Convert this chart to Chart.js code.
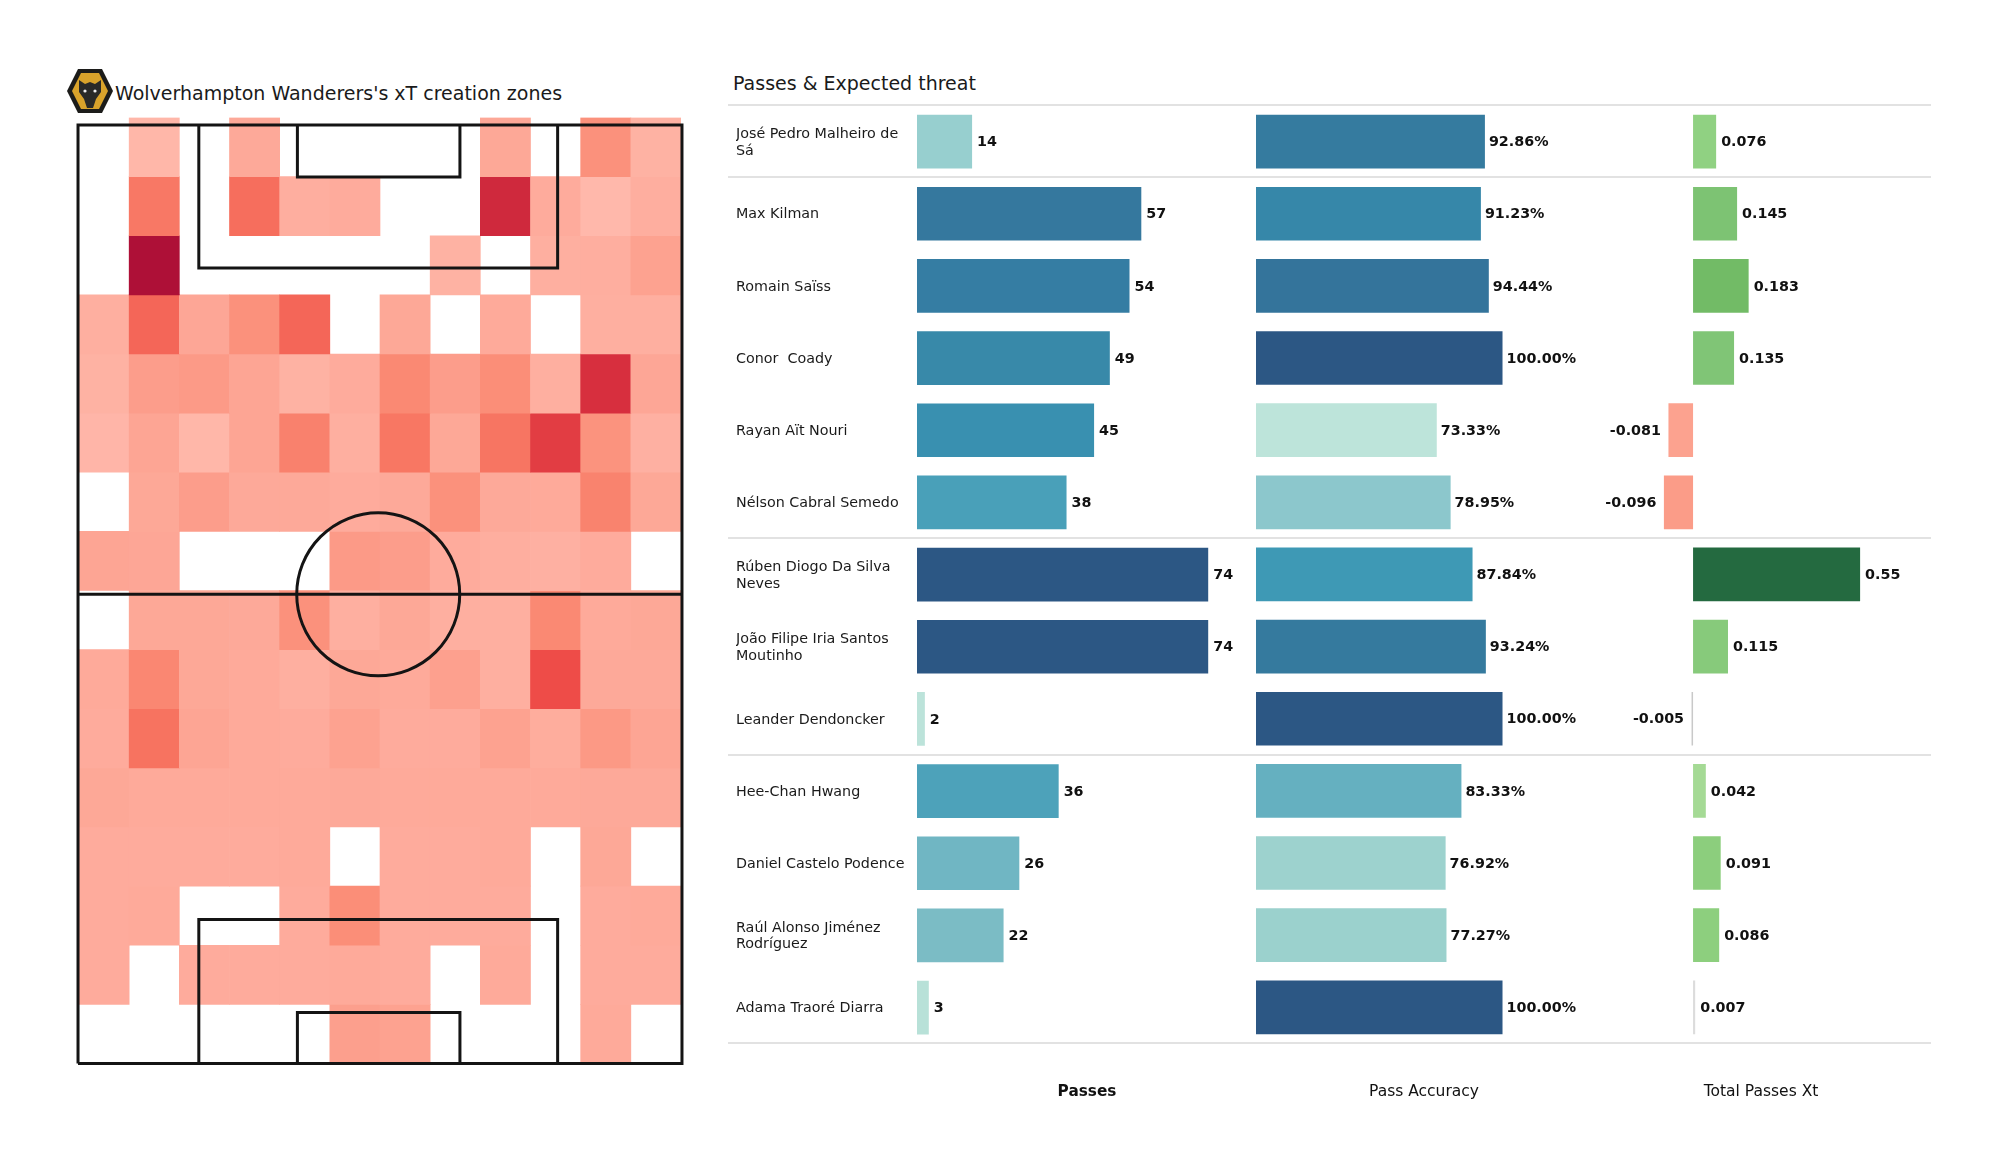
<!DOCTYPE html>
<html>
<head>
<meta charset="utf-8">
<title>Wolves xT</title>
<script src="https://cdn.jsdelivr.net/npm/chart.js@4/dist/chart.umd.min.js"></script>
<style>
  html, body { margin: 0; padding: 0; background: #fff; width: 2000px; height: 1175px; overflow: hidden; }
  body { font-family: "DejaVu Sans", sans-serif; position: relative; }
  canvas { position: absolute; }
  .head { position: absolute; font-size: 19px; color: #1a1a1a; white-space: nowrap; line-height: 24px; }
  .rule { position: absolute; left: 728px; width: 1203px; height: 2px; background: #e2e2e2; }
  #logo { position: absolute; left: 66px; top: 68px; }
</style>
</head>
<body>
<div class="head" id="heatTitle" style="left:115px;top:81px">Wolverhampton Wanderers's xT creation zones</div>
<div class="head" id="tableTitle" style="left:733px;top:71px">Passes &amp; Expected threat</div>
<svg id="logo" width="48" height="46" viewBox="0 0 48 46">
  <polygon points="1,23 12,1 36,1 47,23 36,45 12,45" fill="#1c1c1a"/>
  <polygon points="6,23 15,5 33,5 42,23 33,41 15,41" fill="#d9a32b"/>
  <polygon points="13,12 19,16 24,14 29,16 35,12 35,24 30,31 27,40 21,40 18,31 13,24" fill="#2a2a28"/>
  <circle cx="19" cy="23" r="1.6" fill="#eee"/>
  <circle cx="29" cy="23" r="1.6" fill="#eee"/>
</svg>
<canvas id="heat" width="650" height="1000" style="left:69px;top:100px"></canvas>
<canvas id="passes" width="521" height="1001" style="left:736px;top:100px"></canvas>
<canvas id="accuracy" width="336" height="1001" style="left:1256px;top:100px"></canvas>
<canvas id="threat" width="344" height="1001" style="left:1589px;top:100px"></canvas>

<script>
// players, top to bottom
const players = [
  ["José Pedro Malheiro de", "Sá"],
  "Max Kilman",
  "Romain Saïss",
  "Conor  Coady",
  "Rayan Aït Nouri",
  "Nélson Cabral Semedo",
  ["Rúben Diogo Da Silva", "Neves"],
  ["João Filipe Iria Santos", "Moutinho"],
  "Leander Dendoncker",
  "Hee-Chan Hwang",
  "Daniel Castelo Podence",
  ["Raúl Alonso Jiménez", "Rodríguez"],
  "Adama Traoré Diarra"
];
const passes = [14, 57, 54, 49, 45, 38, 74, 74, 2, 36, 26, 22, 3];
const accuracy = [92.86, 91.23, 94.44, 100, 73.33, 78.95, 87.84, 93.24, 100, 83.33, 76.92, 77.27, 100];
const threat = [0.076, 0.145, 0.183, 0.135, -0.081, -0.096, 0.55, 0.115, -0.005, 0.042, 0.091, 0.086, 0.007];

const passColors = ["#97cfcf", "#35789e", "#357da3", "#3889a9", "#3990b0", "#49a0b9", "#2c5784", "#2c5784", "#bce3da", "#4da2ba", "#70b6c3", "#7bbcc5", "#b8e1d8"];
const accuracyColors = ["#357b9f", "#3687a9", "#34749b", "#2c5784", "#bde4da", "#8cc7cc", "#3e99b5", "#357a9e", "#2c5784", "#65b0c0", "#9dd2ce", "#9bd1cd", "#2c5784"];
const threatColors = ["#90d182", "#7dc373", "#72bb66", "#80c576", "#fca28f", "#fb9c88", "#246a40", "#87ca7b", "#c9c9c9", "#a5da95", "#8cce7d", "#8dcf7e", "#dcdcdc"];

// where the thin grey lines go, as "after this many players"
const groupBreaks = [0, 1, 6, 9, 13];

// xT zones, one list per row of the pitch, null = nothing there
const zoneCols = ["1", "2", "3", "4", "5", "6", "7", "8", "9", "10", "11", "12"];
const zone01 = [null, 0.01, null, 0.12, null, null, null, null, 0.13, null, 0.28, 0.05];
const zone02 = [null, 0.42, null, 0.47, 0.08, 0.10, null, null, 0.80, 0.10, 0.00, 0.08];
const zone03 = [null, 1.00, null, null, null, null, null, 0.05, null, 0.07, 0.08, 0.17];
const zone04 = [0.07, 0.50, 0.14, 0.28, 0.50, null, 0.13, null, 0.11, null, 0.07, 0.07];
const zone05 = [0.05, 0.20, 0.22, 0.15, 0.05, 0.10, 0.33, 0.20, 0.30, 0.07, 0.75, 0.14];
const zone06 = [0.02, 0.15, 0.01, 0.15, 0.37, 0.07, 0.43, 0.13, 0.44, 0.68, 0.27, 0.06];
const zone07 = [null, 0.13, 0.20, 0.12, 0.12, 0.10, 0.12, 0.28, 0.12, 0.11, 0.36, 0.13];
const zone08 = [0.15, 0.14, null, null, null, 0.22, 0.20, 0.10, 0.08, 0.06, 0.10, null];
const zone09 = [null, 0.13, 0.13, 0.12, 0.28, 0.07, 0.13, 0.07, 0.07, 0.33, 0.11, 0.13];
const zone10 = [0.11, 0.34, 0.13, 0.11, 0.07, 0.13, 0.11, 0.18, 0.07, 0.60, 0.12, 0.12];
const zone11 = [0.10, 0.45, 0.15, 0.11, 0.10, 0.17, 0.10, 0.10, 0.17, 0.09, 0.23, 0.15];
const zone12 = [0.13, 0.11, 0.11, 0.11, 0.11, 0.12, 0.11, 0.11, 0.11, 0.11, 0.12, 0.12];
const zone13 = [0.10, 0.10, 0.10, 0.10, 0.11, null, 0.10, 0.10, 0.11, null, 0.13, null];
const zone14 = [0.10, 0.11, null, null, 0.10, 0.30, 0.10, 0.10, 0.10, null, 0.10, 0.11];
const zone15 = [0.10, null, 0.10, 0.10, 0.10, 0.11, 0.10, null, 0.11, null, 0.10, 0.10];
const zone16 = [null, null, null, null, null, 0.19, 0.17, null, null, null, 0.11, null];
const zoneRows = [zone01, zone02, zone03, zone04, zone05, zone06, zone07, zone08,
                  zone09, zone10, zone11, zone12, zone13, zone14, zone15, zone16];

// pitch markings in metres, 68 wide, 105 long, y = 0 at the bottom goal line
const outlineX = [0, 68, 68, 0, 0];
const outlineY = [0, 0, 105, 105, 0];
const halfwayX = [0, 68];
const halfwayY = [52.5, 52.5];
const topBoxX = [13.6, 13.6, 54, 54];
const topBoxY = [105, 89, 89, 105];
const topSixX = [24.7, 24.7, 43, 43];
const topSixY = [105, 99.2, 99.2, 105];
const lowBoxX = [13.6, 13.6, 54, 54];
const lowBoxY = [0, 16.1, 16.1, 0];
const lowSixX = [24.7, 24.7, 43, 43];
const lowSixY = [0, 5.7, 5.7, 0];

const redStops = [
  [0, [255, 184, 171]], [0.15, [253, 165, 148]], [0.3, [251, 142, 120]], [0.45, [247, 115, 96]],
  [0.6, [238, 76, 72]], [0.75, [215, 47, 62]], [1, [174, 16, 55]]
];

function zoneColor(v) {
  if (v === null) return "rgba(0,0,0,0)";
  for (let i = 1; i < redStops.length; i++) {
    if (v <= redStops[i][0]) {
      const [a, ca] = redStops[i - 1];
      const [b, cb] = redStops[i];
      const t = (v - a) / (b - a);
      const c = ca.map((x, k) => Math.round(x + (cb[k] - x) * t));
      return `rgb(${c[0]},${c[1]},${c[2]})`;
    }
  }
  return "rgb(174,16,55)";
}

function pitchLine(xs, ys) {
  return {
    type: "scatter",
    xAxisID: "px",
    yAxisID: "py",
    order: 0,
    showLine: true,
    fill: false,
    clip: false,
    borderColor: "#141414",
    borderWidth: 3,
    borderJoinStyle: "miter",
    pointRadius: 0,
    data: xs.map((x, i) => ({ x: x, y: ys[i] }))
  };
}

const off = { display: false, grid: { display: false, drawTicks: false }, border: { display: false }, ticks: { display: false } };

const zoneSets = zoneRows.map((row, r) => ({
  type: "bar",
  xAxisID: "col",
  yAxisID: "row",
  order: 1,
  grouped: false,
  barPercentage: 1,
  categoryPercentage: 1,
  borderWidth: 0,
  data: row.map(v => v === null ? null : [r, r + 1]),
  backgroundColor: row.map(zoneColor)
}));

new Chart(document.getElementById("heat"), {
  type: "bar",
  data: {
    labels: zoneCols,
    datasets: [
      ...zoneSets,
      pitchLine(outlineX, outlineY),
      pitchLine(halfwayX, halfwayY),
      pitchLine(topBoxX, topBoxY),
      pitchLine(topSixX, topSixY),
      pitchLine(lowBoxX, lowBoxY),
      pitchLine(lowSixX, lowSixY),
      {
        type: "scatter",
        xAxisID: "px",
        yAxisID: "py",
        order: 0,
        clip: false,
        data: [{ x: 33.8, y: 52.5 }],
        pointRadius: 81.5,
        pointBackgroundColor: "rgba(0,0,0,0)",
        pointBorderColor: "#141414",
        pointBorderWidth: 3
      }
    ]
  },
  options: {
    responsive: false,
    animation: false,
    layout: { autoPadding: false, padding: { left: 10, right: 38, top: 17.5, bottom: 36.5 } },
    plugins: { legend: { display: false }, tooltip: { enabled: false } },
    scales: {
      col: { ...off, axis: "x", type: "category", offset: true },
      row: { ...off, axis: "y", type: "linear", reverse: true, min: 0, max: 16 },
      // the bar defaults would switch offset on here too
      px: { ...off, axis: "x", type: "linear", offset: false, min: 0.11, max: 67.89 },
      py: { ...off, axis: "y", type: "linear", min: 0, max: 105.85 }
    }
  }
});

// value next to each bar, right of positive bars, left of negative ones
const barLabels = {
  id: "barLabels",
  afterDatasetsDraw(chart, args, opts) {
    const ctx = chart.ctx;
    const meta = chart.getDatasetMeta(0);
    ctx.save();
    ctx.font = "bold 14.3px 'DejaVu Sans'";
    ctx.fillStyle = "#111";
    ctx.textBaseline = "middle";
    meta.data.forEach((bar, i) => {
      const v = chart.data.datasets[0].data[i];
      ctx.textAlign = v < 0 ? "right" : "left";
      ctx.fillText(opts.format(v), bar.x + (v < 0 ? -7.5 : opts.gap), bar.y + 1);
    });
    ctx.restore();
  }
};

function barChart(id, title, values, colors, xMin, xMax, format, gap, titleBold, withNames) {
  return new Chart(document.getElementById(id), {
    type: "bar",
    plugins: [barLabels],
    data: {
      labels: players,
      datasets: [{
        data: values,
        backgroundColor: colors,
        borderWidth: 0,
        minBarLength: 1.5,
        barPercentage: 0.744,
        categoryPercentage: 1
      }]
    },
    options: {
      indexAxis: "y",
      responsive: false,
      animation: false,
      layout: { autoPadding: false, padding: { top: 5.5, left: 0, right: 0, bottom: 0 } },
      plugins: {
        legend: { display: false },
        tooltip: { enabled: false },
        barLabels: { format: format, gap: gap }
      },
      scales: {
        x: {
          min: xMin,
          max: xMax,
          grid: { display: false, drawTicks: false },
          border: { display: false },
          ticks: { display: false },
          title: {
            display: true,
            text: title,
            color: "#111",
            font: { family: "'DejaVu Sans'", size: titleBold ? 15.3 : 15.5, weight: titleBold ? "bold" : "normal", lineHeight: 1.2 },
            padding: { top: 39, bottom: 0 }
          }
        },
        y: {
          display: withNames,
          grid: { display: false, drawTicks: false },
          border: { display: false },
          afterFit: s => { if (withNames) { s.width = 181; s.paddingTop = 0; s.paddingBottom = 0; } },
          ticks: {
            display: withNames,
            crossAlign: "far",
            padding: 0,
            labelOffset: 1,
            autoSkip: false,
            color: "#1a1a1a",
            font: { family: "'DejaVu Sans'", size: 14.3, lineHeight: 1.16 }
          }
        }
      }
    }
  });
}

barChart("passes", "Passes", passes, passColors, 0, 86.4, v => String(v), 5, true, true);
barChart("accuracy", "Pass Accuracy", accuracy, accuracyColors, 0, 136.3, v => v.toFixed(2) + "%", 4, false, false);
barChart("threat", "Total Passes Xt", threat, threatColors, -0.3426, 0.79, v => String(v), 5, false, false);

// grey separators over the whole table, row height comes from the table's y range
const rowTop = 105, rowStep = 72.17;
groupBreaks.forEach(n => {
  const d = document.createElement("div");
  d.className = "rule";
  d.style.top = Math.round(rowTop + n * rowStep - 1) + "px";
  document.body.appendChild(d);
});
</script>
</body>
</html>
